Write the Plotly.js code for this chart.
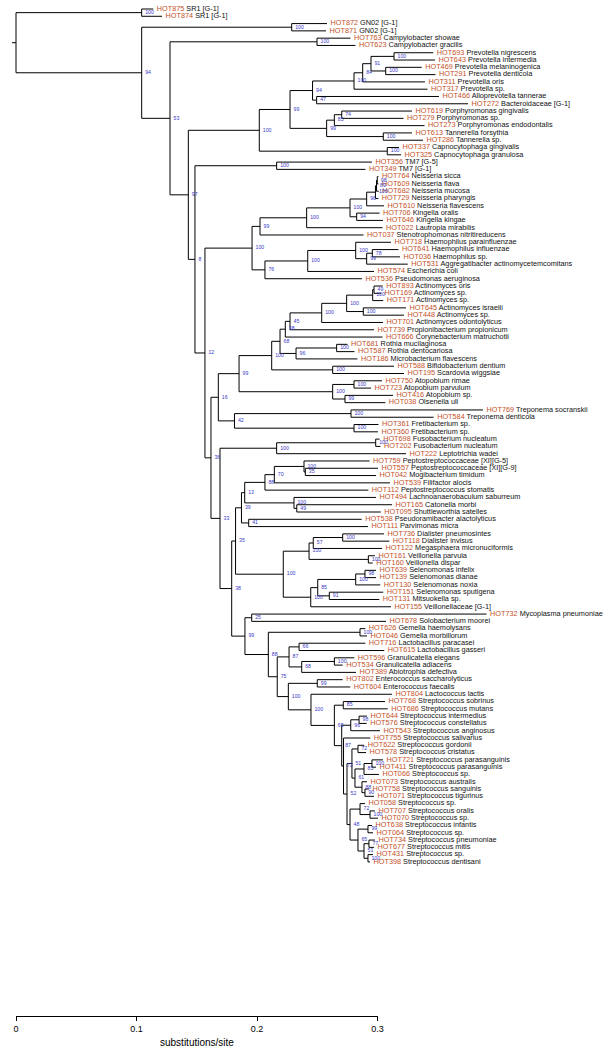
<!DOCTYPE html>
<html><head><meta charset="utf-8">
<script src="https://cdn.plot.ly/plotly-3.0.1.min.js"></script>
<style>html,body{margin:0;padding:0;background:#fff;}#chart{width:611px;height:1049px;}</style>
</head><body><div id="chart"></div>
<script>
// ---------- data ----------
const leafCode = ['HOT875','HOT874','HOT872','HOT871','HOT763','HOT623','HOT693','HOT643','HOT469','HOT291',
'HOT311','HOT317','HOT466','HOT272','HOT619','HOT279','HOT273','HOT613','HOT286','HOT337',
'HOT325','HOT356','HOT349','HOT764','HOT609','HOT682','HOT729','HOT610','HOT706','HOT646',
'HOT022','HOT037','HOT718','HOT641','HOT036','HOT531','HOT574','HOT536','HOT893','HOT169',
'HOT171','HOT645','HOT448','HOT701','HOT739','HOT666','HOT681','HOT587','HOT186','HOT588',
'HOT195','HOT750','HOT723','HOT416','HOT038','HOT769','HOT584','HOT361','HOT360','HOT698',
'HOT202','HOT222','HOT759','HOT557','HOT042','HOT539','HOT112','HOT494','HOT165','HOT095',
'HOT538','HOT111','HOT736','HOT118','HOT122','HOT161','HOT160','HOT639','HOT139','HOT130',
'HOT151','HOT131','HOT155','HOT732','HOT678','HOT626','HOT046','HOT716','HOT615','HOT596',
'HOT534','HOT389','HOT802','HOT604','HOT804','HOT768','HOT686','HOT644','HOT576','HOT543',
'HOT755','HOT622','HOT578','HOT721','HOT411','HOT066','HOT073','HOT758','HOT071','HOT058',
'HOT707','HOT070','HOT638','HOT064','HOT734','HOT677','HOT431','HOT398'];

const leafName = ['SR1 [G-1]','SR1 [G-1]','GN02 [G-1]','GN02 [G-1]','Campylobacter showae','Campylobacter gracilis',
'Prevotella nigrescens','Prevotella intermedia','Prevotella melaninogenica','Prevotella denticola','Prevotella oris',
'Prevotella sp.','Alloprevotella tannerae','Bacteroidaceae [G-1]','Porphyromonas gingivalis','Porphyromonas sp.',
'Porphyromonas endodontalis','Tannerella forsythia','Tannerella sp.','Capnocytophaga gingivalis','Capnocytophaga granulosa',
'TM7 [G-5]','TM7 [G-1]','Neisseria sicca','Neisseria flava','Neisseria mucosa','Neisseria pharyngis','Neisseria flavescens',
'Kingella oralis','Kingella kingae','Lautropia mirabilis','Stenotrophomonas nitritireducens','Haemophilus parainfluenzae',
'Haemophilus influenzae','Haemophilus sp.','Aggregatibacter actinomycetemcomitans','Escherichia coli','Pseudomonas aeruginosa',
'Actinomyces oris','Actinomyces sp.','Actinomyces sp.','Actinomyces israelii','Actinomyces sp.','Actinomyces odontolyticus',
'Propionibacterium propionicum','Corynebacterium matruchotii','Rothia mucilaginosa','Rothia dentocariosa','Microbacterium flavescens',
'Bifidobacterium dentium','Scardovia wiggsiae','Atopobium rimae','Atopobium parvulum','Atopobium sp.','Olsenella uli',
'Treponema socranskii','Treponema denticola','Fretibacterium sp.','Fretibacterium sp.','Fusobacterium nucleatum',
'Fusobacterium nucleatum','Leptotrichia wadei','Peptostreptococcaceae [XI][G-5]','Peptostreptococcaceae [XI][G-9]',
'Mogibacterium timidum','Filifactor alocis','Peptostreptococcus stomatis','Lachnoanaerobaculum saburreum','Catonella morbi',
'Shuttleworthia satelles','Pseudoramibacter alactolyticus','Parvimonas micra','Dialister pneumosintes','Dialister invisus',
'Megasphaera micronuciformis','Veillonella parvula','Veillonella dispar','Selenomonas infelix','Selenomonas dianae',
'Selenomonas noxia','Selenomonas sputigena','Mitsuokella sp.','Veillonellaceae [G-1]','Mycoplasma pneumoniae',
'Solobacterium moorei','Gemella haemolysans','Gemella morbillorum','Lactobacillus paracasei','Lactobacillus gasseri',
'Granulicatella elegans','Granulicatella adiacens','Abiotrophia defectiva','Enterococcus saccharolyticus','Enterococcus faecalis',
'Lactococcus lactis','Streptococcus sobrinus','Streptococcus mutans','Streptococcus intermedius','Streptococcus constellatus',
'Streptococcus anginosus','Streptococcus salivarius','Streptococcus gordonii','Streptococcus cristatus','Streptococcus parasanguinis',
'Streptococcus parasanguinis','Streptococcus sp.','Streptococcus australis','Streptococcus sanguinis','Streptococcus tigurinus',
'Streptococcus sp.','Streptococcus oralis','Streptococcus sp.','Streptococcus infantis','Streptococcus sp.',
'Streptococcus pneumoniae','Streptococcus mitis','Streptococcus sp.','Streptococcus dentisani'];

// distance from root (substitutions/site) of each tip
const leafDepth = [0.1139,0.1212,0.2581,0.2573,0.2776,0.2817,0.3463,0.3477,0.3367,0.3481,
0.3394,0.3415,0.3510,0.3751,0.3286,0.3216,0.3390,0.3286,0.3378,0.3178,
0.3195,0.2954,0.2900,0.3008,0.3008,0.3010,0.3007,0.3054,0.3017,0.3046,
0.3042,0.2884,0.3112,0.3174,0.3187,0.3251,0.2971,0.2871,0.3043,0.3029,
0.3048,0.3237,0.3220,0.3046,0.2971,0.3042,0.2751,0.2809,0.2834,0.3137,
0.3220,0.3037,0.2946,0.3129,0.3065,0.3876,0.3466,0.3008,0.3004,0.3018,
0.3025,0.3237,0.2934,0.3004,0.2988,0.3104,0.2924,0.2988,0.3120,0.3027,
0.2869,0.2921,0.3054,0.3098,0.3037,0.2979,0.2960,0.2988,0.2988,0.3023,
0.3048,0.3015,0.3112,0.3905,0.3071,0.2899,0.2913,0.2899,0.3056,0.2807,
0.2711,0.2822,0.2711,0.2774,0.3120,0.3062,0.3085,0.2913,0.2910,0.3021,
0.2940,0.2890,0.2905,0.3046,0.2988,0.3012,0.2913,0.2929,0.2971,0.2896,
0.2979,0.3004,0.2954,0.2963,0.2979,0.2971,0.2963,0.2938];

// internal nodes: [name, children (numbers = leaf index), depth (subst./site), bootstrap]
const clades = [
['root',['SR1','N94'],0,null],
['SR1',[0,1],0.1043,100],
['N94',['GN02','N53'],0.1043,94],
['GN02',[2,3],0.2288,100],
['N53',['Campy','N97'],0.1278,53],
['Campy',[4,5],0.2498,100],
['N97',['Bact','N8'],0.1430,97],
['Bact',['N99a','Capno'],0.2019,100],
['N99a',['N94b','P99'],0.2274,99],
['N94b',['Prev100a','N47'],0.2461,94],
['Prev100a',['N84',11],0.2805,100],
['N84',['N91',10],0.2877,84],
['N91',['Prev100b','Prev100c'],0.2946,91],
['Prev100b',[6,7],0.3137,100],
['Prev100c',[8,9],0.3068,100],
['N47',[12,13],0.2495,47],
['P99',['N85','Tann'],0.2578,99],
['N85',['N74',16],0.2642,85],
['N74',[14,15],0.2703,74],
['Tann',[17,18],0.3048,100],
['Capno',[19,20],0.3081,100],
['N8',['TM7','N12'],0.1485,8],
['TM7',[21,22],0.2163,100],
['N12',['Prot','N36'],0.1568,12],
['Prot',['B99','N76'],0.1959,100],
['B99',['Neis',31],0.2025,99],
['Neis',['NK',30],0.2412,100],
['NK',['N96n','King'],0.2772,100],
['N96n',['N100n',27],0.2910,96],
['N100n',['N89',26],0.2983,100],
['N89',['N98n',25],0.2992,89],
['N98n',[23,24],0.2998,98],
['King',[28,29],0.2827,94],
['N76',['Ent',37],0.2066,76],
['Ent',['Past',36],0.2421,100],
['Past',[32,'N99p'],0.2819,100],
['N99p',['N78',35],0.2910,99],
['N78',[33,34],0.2957,78],
['N36',['N16','N33'],0.1618,36],
['N16',['Act99','N42'],0.1679,16],
['Act99',['Act100','Cor'],0.1851,99],
['Act100',['N68','Bif'],0.2122,100],
['N68',['N38a','N96r'],0.2191,68],
['N38a',['N45',45],0.2235,38],
['N45',['A100b',44],0.2274,45],
['A100b',['A100',43],0.2537,100],
['A100',['N100act','Aisr'],0.2744,100],
['N100act',['N49a',40],0.2960,100],
['N49a',[38,39],0.2971,49],
['Aisr',[41,42],0.2882,100],
['N96r',['Roth',48],0.2324,96],
['Roth',[46,47],0.2661,100],
['Bif',[49,50],0.2628,100],
['Cor',['Atop','N99c'],0.2628,100],
['Atop',[51,52],0.2805,100],
['N99c',[53,54],0.2730,99],
['N42',['Trep','Fret'],0.1813,42],
['Trep',[55,56],0.2780,100],
['Fret',[57,58],0.2805,100],
['N33',['Fuso','N38'],0.1693,33],
['Fuso',['Fn',61],0.2163,100],
['Fn',[59,60],0.2985,100],
['N38',['N35','N99g'],0.1790,38],
['N35',['N39','Veil'],0.1822,35],
['N39',['N13','N41'],0.1871,39],
['N13',['N88a','Lach'],0.1898,13],
['N88a',['N70',66],0.2066,88],
['N70',['Pep',65],0.2144,70],
['Pep',[62,'N35b'],0.2390,100],
['N35b',[63,64],0.2401,35],
['Lach',[67,'N49b'],0.2307,100],
['N49b',[68,69],0.2330,49],
['N41',[70,71],0.1931,41],
['Veil',['MV','N100s'],0.2218,100],
['MV',['N57','Veilo'],0.2432,100],
['N57',['Dial',74],0.2467,57],
['Dial',[72,73],0.2711,100],
['Veilo',[75,76],0.2924,100],
['N100s',['N85s',82],0.2446,100],
['N85s',['Sel','N91s'],0.2504,85],
['Sel',['N98s',79],0.2819,100],
['N98s',[77,78],0.2896,98],
['N91s',[80,81],0.2600,91],
['N99g',['N25','N88'],0.1900,99],
['N25',[83,84],0.1956,25],
['N88',['Gem','N75'],0.2094,88],
['Gem',[85,86],0.2855,100],
['N75',['N87g','EntS'],0.2168,75],
['N87g',['Lac','N68g'],0.2266,87],
['Lac',[87,88],0.2349,66],
['N68g',['Gran',91],0.2371,68],
['Gran',[89,90],0.2642,100],
['EntS',['Ent99','N100c'],0.2260,100],
['Ent99',[92,93],0.2500,99],
['N100c',[94,'A65'],0.2448,100],
['A65',['Mut','B87'],0.2642,65],
['Mut',[95,96],0.2716,85],
['B87',['Ang96','C'],0.2703,87],
['Ang96',['Ang98',99],0.2778,96],
['Ang98',[97,98],0.2847,98],
['C',[100,'D'],0.2718,72],
['D',['E','F'],0.2747,52],
['E',['Eg','Ep'],0.2788,51],
['Eg',[101,102],0.2838,72],
['Ep',['Epa','Es'],0.2813,61],
['Epa',['Epp',105],0.2888,85],
['Epp',[103,104],0.2954,100],
['Es',[106,'Es90'],0.2871,88],
['Es90',[107,108],0.2896,90],
['F',['Fo','Fm'],0.2772,48],
['Fo',[109,'Fo100'],0.2855,72],
['Fo100',[110,111],0.2938,100],
['Fm',['Fm99','Fm51'],0.2838,65],
['Fm99',[112,113],0.2921,99],
['Fm51',['Fm77','Fm100'],0.2888,51],
['Fm77',[114,115],0.2929,77],
['Fm100',[116,117],0.2921,100]
];

const scaleTickVals = [0, 0.1, 0.2, 0.3];
const scaleTickText = ['0', '0.1', '0.2', '0.3'];
const scaleTitle = 'substitutions/site';

// ---------- layout geometry ----------
const W = 611, H = 1049;
const marginB = 33;
const plotH = H - marginB;
const leaf0Px = 9, leafStepPx = 7.29;
const xRange = [-16/1205, (W-16)/1205];
const yRange = [(plotH - leaf0Px)/leafStepPx, -leaf0Px/leafStepPx];
const unitPerPx = (xRange[1]-xRange[0]) / W;

const HOT_COLOR = '#c4522a', NAME_COLOR = '#111111', BOOT_COLOR = '#3a3ac6';
const FONT = 'Liberation Sans, Arial, Helvetica, sans-serif';

// ---------- tree build ----------
const cladeMap = {};
clades.forEach(c => { cladeMap[c[0]] = {kids: c[1], depth: c[2], boot: c[3]}; });
function yOf(ref) {
  if (typeof ref === 'number') return ref;
  const n = cladeMap[ref];
  if (n.y === undefined) {
    const ys = n.kids.map(yOf);
    n.y = (ys[0] + ys[ys.length-1]) / 2;
  }
  return n.y;
}
function depthOf(ref) { return typeof ref === 'number' ? leafDepth[ref] : cladeMap[ref].depth; }

const lx = [], ly = [];
const bx = [], by = [], bt = [];
clades.forEach(c => {
  const n = cladeMap[c[0]];
  const ny = yOf(c[0]);
  const kidYs = n.kids.map(yOf);
  lx.push(n.depth, n.depth, null); ly.push(kidYs[0], kidYs[kidYs.length-1], null);
  n.kids.forEach((k, i) => {
    lx.push(n.depth, depthOf(k), null); ly.push(kidYs[i], kidYs[i], null);
  });
  if (n.boot !== null) { bx.push(n.depth + 3.5*unitPerPx); by.push(ny); bt.push(String(n.boot)); }
});
const root = cladeMap['root'];
lx.push(root.depth - 4*unitPerPx, root.depth, null); ly.push(yOf('root'), yOf('root'), null);

const tx = leafDepth.map(d => d + 3.5*unitPerPx);
const ty = leafDepth.map((d, i) => i);
const tt = leafCode.map((c, i) => '<span style="color:' + HOT_COLOR + '">' + c + '</span> ' + leafName[i]);

const traces = [
  {type:'scatter', mode:'lines', x:lx, y:ly, line:{color:'#000', width:1}, hoverinfo:'skip', showlegend:false},
  {type:'scatter', mode:'text', x:tx, y:ty, text:tt, textposition:'middle right', cliponaxis:false,
   textfont:{family:FONT, size:7.3, color:NAME_COLOR}, hoverinfo:'skip', showlegend:false},
  {type:'scatter', mode:'text', x:bx, y:by, text:bt, textposition:'middle right', cliponaxis:false,
   textfont:{family:FONT, size:5.2, color:BOOT_COLOR}, hoverinfo:'skip', showlegend:false},
  {type:'scatter', mode:'markers', x:[0], y:[-100], xaxis:'x2', yaxis:'y', marker:{opacity:0}, hoverinfo:'skip', showlegend:false}
];

const layout = {
  width: W, height: H,
  margin: {l:0, r:0, t:0, b:marginB, pad:0},
  paper_bgcolor:'#fff', plot_bgcolor:'rgba(0,0,0,0)',
  showlegend:false,
  xaxis: {range:xRange, visible:false, fixedrange:true},
  xaxis2: {domain:[16/W, 377.5/W], range:[0, 0.3], anchor:'y', showline:true, linecolor:'#000', linewidth:1,
           ticks:'outside', ticklen:4, tickcolor:'#000', tickwidth:1, tickvals:scaleTickVals, ticktext:scaleTickText,
           tickfont:{family:FONT, size:9, color:'#000'}, showgrid:false, zeroline:false, fixedrange:true},
  yaxis: {range:yRange, visible:false, fixedrange:true},
  annotations: [{text:scaleTitle, xref:'x2', x:0.15, yref:'paper', y:0, yanchor:'top', yshift:-19, showarrow:false,
                 font:{family:FONT, size:10, color:'#000'}}]
};

Plotly.newPlot('chart', traces, layout, {staticPlot:true, displayModeBar:false});
</script>
</body></html>
